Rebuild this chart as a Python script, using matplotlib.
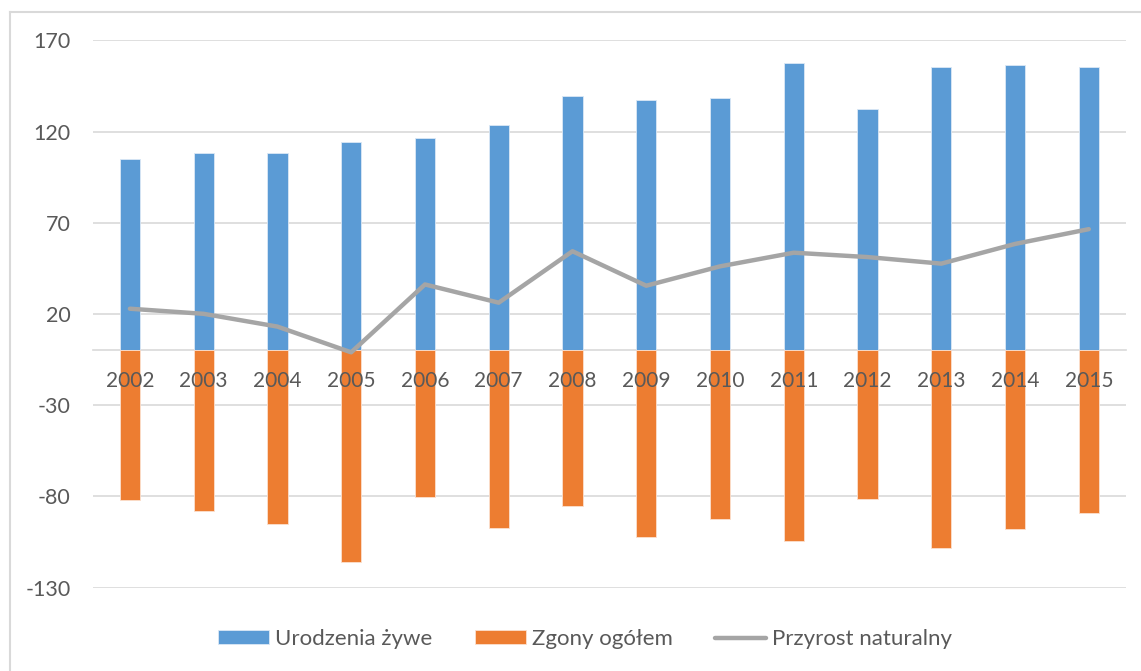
import matplotlib
matplotlib.use('Agg')
import matplotlib.pyplot as plt
from matplotlib.lines import Line2D
import numpy as np

# dane
years = ['2002', '2003', '2004', '2005', '2006', '2007', '2008',
         '2009', '2010', '2011', '2012', '2013', '2014', '2015']
urodzenia = [104.8, 108.2, 108.2, 114.4, 116.6, 123.6, 139.6,
             137.4, 138.2, 157.7, 132.5, 155.5, 156.4, 155.5]
zgony = [-81.9, -88.1, -95.1, -115.9, -80.5, -97.5, -85.4,
         -102.0, -92.5, -104.2, -81.2, -108.4, -98.0, -88.9]
przyrost = [22.9, 20.1, 13.1, -1.0, 36.2, 26.2, 54.4,
            35.5, 46.1, 53.6, 51.2, 47.6, 58.4, 66.5]
yticks = [170, 120, 70, 20, -30, -80, -130]

plt.rcParams['font.family'] = ['Lato', 'DejaVu Sans']
text_color = '#595959'

fig = plt.figure(figsize=(11.41, 6.71), dpi=100)
W, H = 1141, 671
ax = fig.add_axes([93 / W, (H - 587.7) / H, (1125.7 - 93) / W, (587.7 - 40.3) / H])

x = np.arange(len(years))
bw = 0.275
b1 = ax.bar(x, urodzenia, width=bw, color='#5b9bd5', edgecolor='#dbe8f5', linewidth=0.6,
            label='Urodzenia żywe', zorder=2)
b2 = ax.bar(x, zgony, width=bw, color='#ed7d31', edgecolor='#fbe0cf', linewidth=0.6,
            label='Zgony ogółem', zorder=2)
l1, = ax.plot(x, przyrost, color='#a5a5a5', linewidth=3.2, solid_joinstyle='round',
              solid_capstyle='round', label='Przyrost naturalny', zorder=4)

ax.set_xlim(-0.5, len(years) - 0.5)
ax.set_ylim(-130, 170)
ax.set_yticks(yticks)
ax.set_yticklabels([str(v) for v in yticks])
ax.set_xticks(x)
ax.set_xticklabels(years)

ax.set_axisbelow(True)
ax.yaxis.grid(True, color='#d9d9d9', linewidth=1.2)
ax.xaxis.set_zorder(3)

for s in ['top', 'right', 'left']:
    ax.spines[s].set_visible(False)
ax.spines['bottom'].set_position(('data', 0))
ax.spines['bottom'].set_color('#d9d9d9')
ax.spines['bottom'].set_linewidth(1.2)
ax.spines['bottom'].set_zorder(1.5)

ax.tick_params(axis='x', length=0, labelsize=15, colors=text_color, pad=15)
ax.tick_params(axis='y', length=0, labelsize=15.5, colors=text_color, pad=16)

fig.legend(handles=[b1, b2, l1], loc='center', bbox_to_anchor=(585 / W, (H - 639) / H),
           ncol=3, frameon=False, fontsize=16, labelcolor=text_color,
           handlelength=2.3, handleheight=0.6, handletextpad=0.27,
           columnspacing=1.9)

# obramowanie obszaru wykresu (lewa i górna krawędź)
fig.add_artist(Line2D([10 / W, 10 / W], [-0.01, (H - 12) / H], transform=fig.transFigure,
                      color='#d9d9d9', linewidth=1.5))
fig.add_artist(Line2D([10 / W, 1.01], [(H - 12) / H, (H - 12) / H], transform=fig.transFigure,
                      color='#d9d9d9', linewidth=1.5))

fig.savefig('out.png', dpi=100)
